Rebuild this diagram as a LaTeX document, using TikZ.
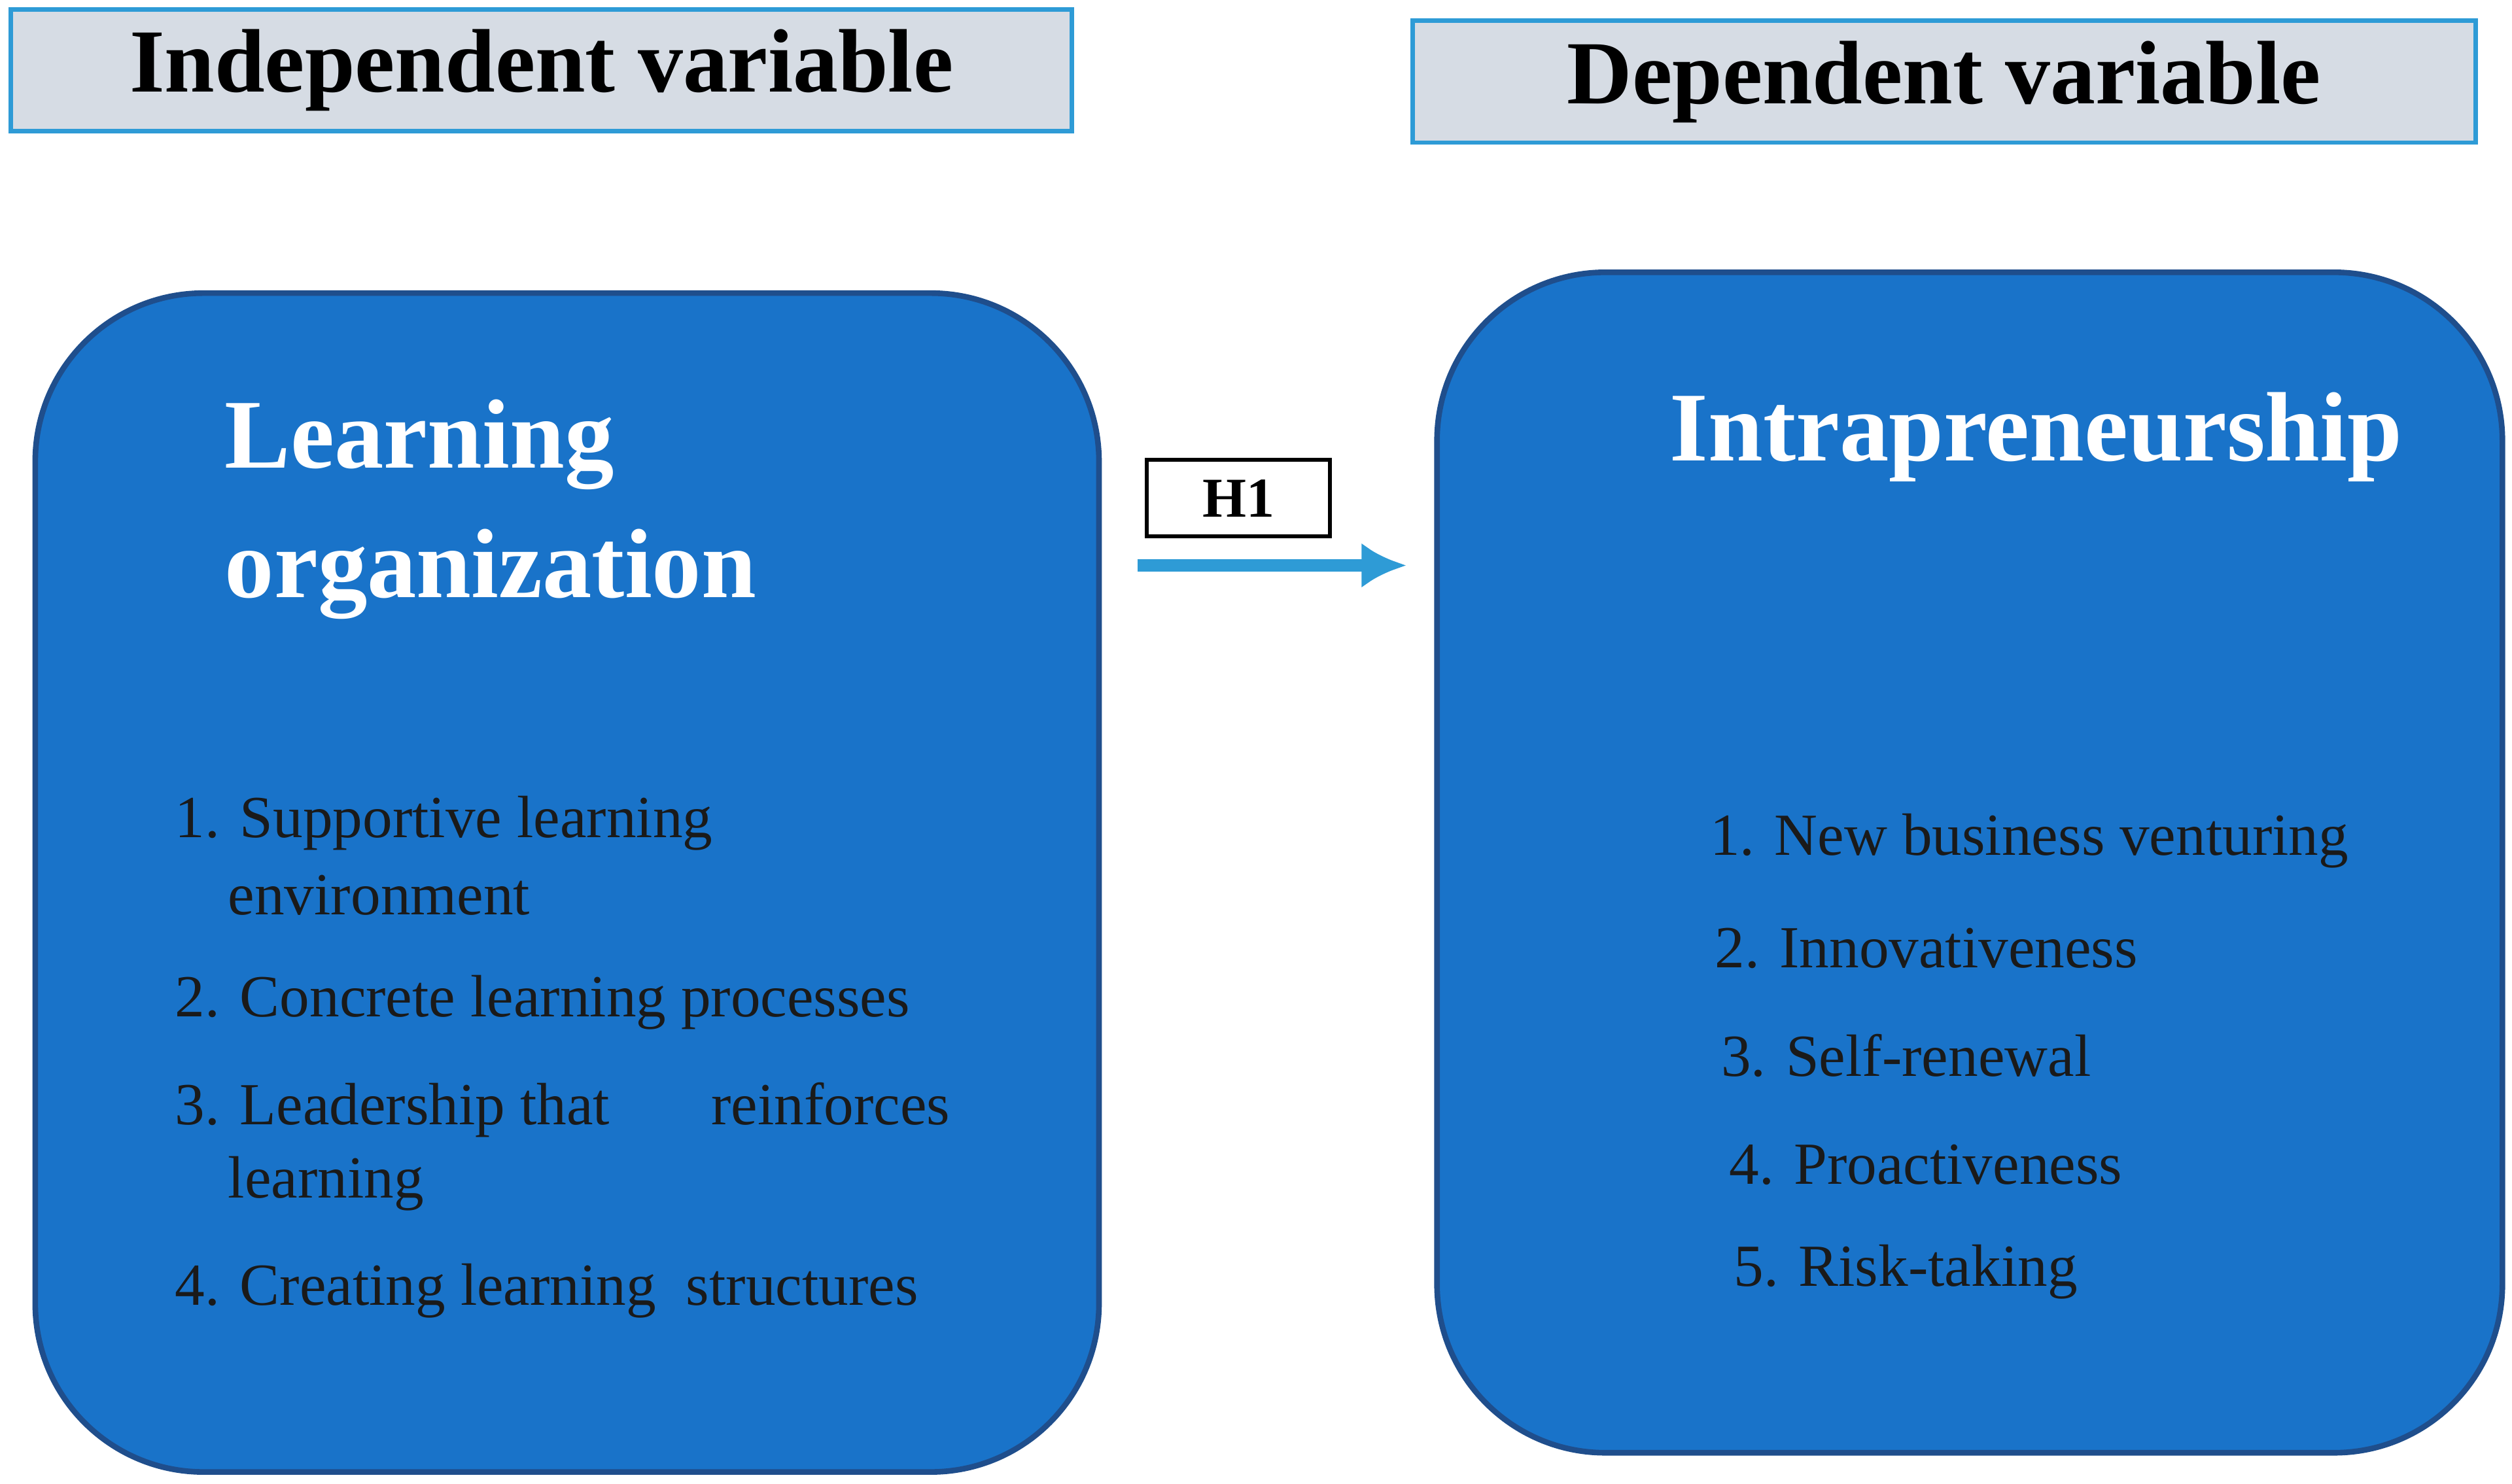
\documentclass[tikz,border=0pt]{standalone}
\usepackage{fontspec}
\usetikzlibrary{arrows.meta}
\setmainfont{Liberation Serif}
\begin{document}
\begin{tikzpicture}[x=0.01cm,y=-0.01cm,
  hdr/.style={draw=hbord,fill=hfill,line width=0.8pt,inner sep=0,font=\bfseries\fontsize{16}{18}\selectfont},
  big/.style={draw=bbord,fill=bfill,line width=1pt,rounded corners=1.05cm},
  ttl/.style={text=white,font=\bfseries\fontsize{17.5}{23}\selectfont,anchor=west,align=left},
  itm/.style={text=itxt,font=\fontsize{10.6}{12}\selectfont,anchor=west}]
\definecolor{hfill}{HTML}{D6DCE4}\definecolor{hbord}{HTML}{2E9BD6}
\definecolor{bfill}{HTML}{1973C9}\definecolor{bbord}{HTML}{1F4E8C}
\definecolor{itxt}{HTML}{1A1A1A}\definecolor{arr}{HTML}{2E9BD6}
\useasboundingbox (0,0) rectangle (1568,926.5);
\node[hdr,minimum width=6.62cm,minimum height=0.76cm] (iv) at (338,44) {Independent variable};
\node[hdr,minimum width=6.63cm,minimum height=0.76cm] (dv) at (1213.5,51) {Dependent variable};
\draw[big] (22,183) rectangle (686,919);
\draw[big] (897,170) rectangle (1562,907);
\node[ttl] (lo) at (128,318) {Learning\\organization};
\node[ttl] (ip) at (1030,273) {Intrapreneurship};
\node[itm] at (97,514) {1. Supportive learning};
\node[itm] at (130,559) {environment};
\node[itm] at (97,626) {2. Concrete learning processes};
\node[itm] at (97,693) {3. Leadership that \hspace{1.2em} reinforces};
\node[itm] at (130,739) {learning};
\node[itm] at (97,806) {4. Creating learning \ structures};
\node[itm] at (1055,525) {1. New business venturing};
\node[itm] at (1058,592) {2. Innovativeness};
\node[itm] at (1062,659) {3. Self-renewal};
\node[itm] at (1067,727) {4. Proactiveness};
\node[itm] at (1070,794) {5. Risk-taking};
\node[draw=black,fill=white,line width=0.7pt,minimum width=1.14cm,minimum height=0.48cm,font=\bfseries\fontsize{10}{12}\selectfont] (h1) at (773,311) {H1};
\coordinate (a1) at (710,353); \coordinate (a2) at (878,353);
\draw[arr,line width=2.2pt,-{Latex[length=8pt,width=8pt]}] (a1) -- (a2);
\end{tikzpicture}
\end{document}
